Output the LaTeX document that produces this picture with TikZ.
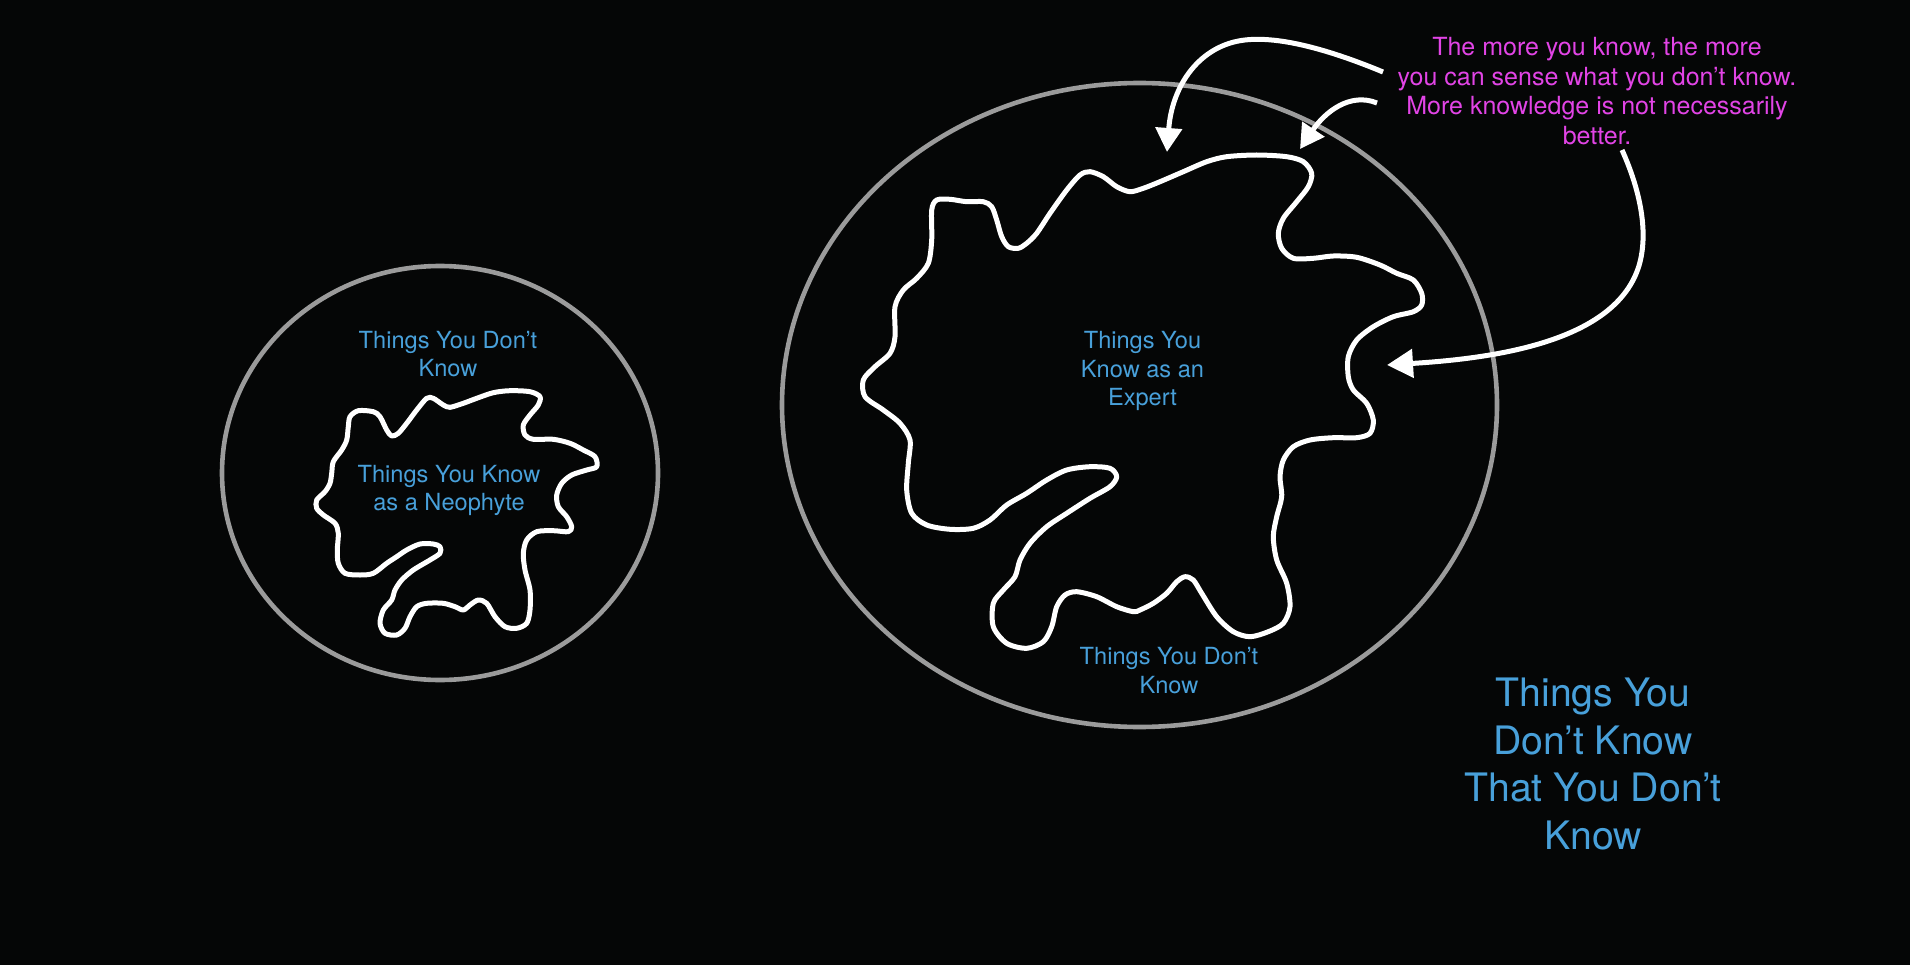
\documentclass[tikz,border=0pt]{standalone}
\usepackage{fontspec}
\setmainfont{TeX Gyre Heros}
\usetikzlibrary{arrows.meta}
\definecolor{bgcol}{RGB}{5,6,6}
\definecolor{lblue}{RGB}{72,160,218}
\definecolor{magcol}{RGB}{226,68,230}
\definecolor{ringgray}{RGB}{155,155,155}
\tikzset{
  ring/.style={draw=ringgray, line width=4.6pt},
  blob/.style={draw=white, line width=5pt, line join=round},
  lbl/.style={text=lblue, align=center, inner sep=0pt, font=\fontsize{23.6}{28.6}\selectfont},
  biglbl/.style={text=lblue, align=center, inner sep=0pt, font=\fontsize{39.2}{47.8}\selectfont},
  notelbl/.style={text=magcol, align=center, inner sep=0pt, font=\fontsize{25}{29.5}\selectfont},
  pointer/.style={draw=white, line width=5pt, -{Triangle[length=24pt,width=26pt]}},
}
\begin{document}
\begin{tikzpicture}[x=1pt,y=-1pt]
\fill[bgcol] (0,0) rectangle (1910,965);
\useasboundingbox (0,0) rectangle (1910,965);

% rings
\draw[ring] (440,473) ellipse [x radius=218, y radius=207];
\draw[ring] (1139.5,405) ellipse [x radius=357.5, y radius=322];

% neophyte blob
\draw[blob] plot[smooth cycle, tension=0.5] coordinates {
(350,416.7) (358.3,410.7) (373.3,411.7) (380,416.7) (386.7,430) (391.7,436)
(398.3,433.3) (406.7,423.3) (416.7,410) (426.7,398.3) (433.3,398.3) (443.3,405)
(450,407.3) (463.3,403.3) (476.7,398.3) (493.3,392.7) (510,390.7) (530,391.7)
(540,396.7) (538.3,405) (530,415) (523.3,425) (525,435) (533.3,439.3)
(553.3,439.3) (570,443.3) (583.3,450) (595,456.7) (596.7,466.7) (586.7,470)
(571.7,475) (561.7,483.3) (556.7,495) (558.3,506.7) (566.7,516.7) (571.7,526.7)
(568.3,531.7) (553.3,530.7) (536.7,531.7) (526.7,540) (523.3,553.3) (525,570)
(530,590) (530,610) (526.7,623.3) (516.7,628.3) (505,626.7) (495,616.7)
(486.7,603.3) (478.3,600) (470,605) (463.3,610) (455,606.7) (443.3,603.3)
(426.7,603.3) (416.7,606.7) (410,616.7) (405,628.3) (396.7,635) (385,633.3)
(380,623.3) (383.3,610) (391.7,600) (395,590) (401.7,580) (413.3,570)
(430,560) (440,553.3) (440,546.7) (433.3,544) (420,544) (406.7,550)
(396.7,556.7) (386.7,563.3) (373.3,573.3) (360,575) (345,573.3) (338.3,563.3)
(337.3,550) (338.3,533.3) (335,523.3) (323.3,515) (316.7,508.3) (316.7,500)
(325,491.7) (330,483.3) (331.7,473.3) (333.3,461.7) (341.7,450) (346.7,440)
(348.3,426.7)};

% expert blob
\draw[blob] plot[smooth cycle, tension=0.5] coordinates {
(865,396.7) (863.3,380) (875,366.7) (890,353.3) (895,336.7) (895,306.7)
(903.3,290) (916.7,278.3) (928.3,263.3) (931.7,240) (931.7,210) (936.7,200)
(950,199.3) (966.7,201.7) (983.3,201.7) (991.7,206.7) (996.7,220) (1001.7,236.7)
(1008.3,246.7) (1018.3,248.3) (1026.7,243.3) (1036.7,233.3) (1050,213.3) (1066.7,190)
(1080,175) (1090,171.7) (1103.3,176.7) (1116.7,186.7) (1130,191.7) (1143.3,188.3)
(1160,181.7) (1183.3,171.7) (1206.7,161.7) (1226.7,156.7) (1256.7,155) (1286.7,156.7)
(1303.3,161.7) (1311.7,173.3) (1308.3,186.7) (1296.7,201.7) (1283.3,218.3) (1278.3,233.3)
(1281.7,248.3) (1293.3,258.3) (1313.3,258.3) (1333.3,256) (1356.7,257.3) (1380,265)
(1396.7,273.3) (1413.3,280) (1421.7,293.3) (1421.7,305) (1413.3,311.7) (1393.3,316.7)
(1373.3,326.7) (1356.7,340) (1348.3,356.7) (1348.3,376.7) (1353.3,390) (1366.7,403.3)
(1373.3,420) (1370,433.3) (1356.7,437.7) (1333.3,437.7) (1310,440) (1293.3,446.7)
(1283.3,460) (1280,476.7) (1281.7,496.7) (1276.7,516.7) (1273.3,536.7) (1276.7,560)
(1286.7,583.3) (1290,606.7) (1283.3,623.3) (1268.3,631.7) (1250,636.7) (1233.3,631.7)
(1216.7,616.7) (1201.7,593.3) (1193.3,580) (1185,576.7) (1176.7,581.7) (1166.7,593.3)
(1153.3,603.3) (1140,610) (1133.3,611.7) (1116.7,606.7) (1096.7,596.7) (1076.7,591.7)
(1065,595) (1056.7,606.7) (1051.7,626.7) (1043.3,641.7) (1026.7,648.3) (1006.7,643.3)
(993.3,626.7) (993.3,603.3) (1003.3,590) (1015,576.7) (1020,560) (1030,543.3)
(1046.7,526.7) (1066.7,513.3) (1090,498.3) (1110,486.7) (1116.7,476.7) (1110,468.3)
(1090,466.7) (1066.7,470) (1046.7,480) (1026.7,493.3) (1006.7,505) (990,520)
(973.3,528.3) (950,529.3) (926.7,525) (911.7,513.3) (906.7,490) (908.3,463.3)
(910,440) (900,423.3) (883.3,410)};

% labels
\node[lbl] (neoout) at (448,354) {Things You Don’t\\Know};
\node[lbl] (neoin) at (449,490.5) {Things You Know\\as a Neophyte};
\node[lbl] (expin) at (1142.5,371) {Things You\\Know as an\\Expert};
\node[lbl] (expout) at (1169,670.5) {Things You Don’t\\Know};
\node[biglbl] (unknown) at (1593,764) {Things You\\Don’t Know\\That You Don’t\\Know};
\node[notelbl] (note) at (1597,91) {The more you know, the more\\you can sense what you don’t know.\\More knowledge is not necessarily\\better.};

% arrows
\coordinate (a1s) at (1383,72);
\coordinate (a1m) at (1245,40);
\coordinate (a1t) at (1167,152);
\coordinate (a2s) at (1377,103);
\coordinate (a2t) at (1300,149);
\coordinate (a3s) at (1622,150);
\coordinate (a3m) at (1640,262);
\coordinate (a3t) at (1387,365);
\draw[pointer] (a1s) .. controls (1330,50) and (1280,36) .. (a1m) .. controls (1200,45) and (1172,85) .. (a1t);
\draw[pointer] (a2s) .. controls (1350,92) and (1325,112) .. (a2t);
\draw[pointer,-{Triangle[length=26pt,width=28pt]}] (a3s) .. controls (1640,190) and (1648,230) .. (a3m) .. controls (1620,340) and (1500,358) .. (a3t);
\end{tikzpicture}
\end{document}
